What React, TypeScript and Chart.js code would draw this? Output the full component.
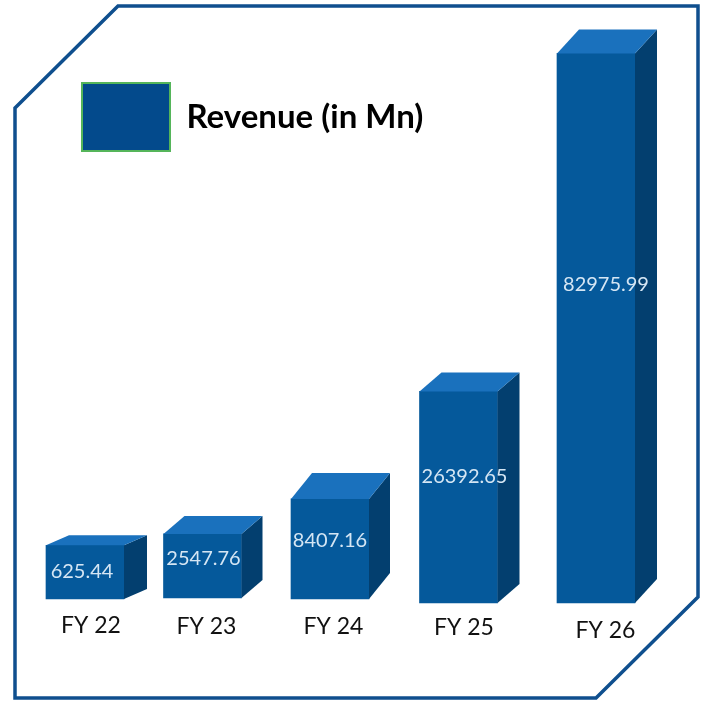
import React, { useEffect, useRef } from "react";
import { Chart, registerables, CategoryScale } from "chart.js";

const categories = ["FY 22", "FY 23", "FY 24", "FY 25", "FY 26"];
const revenue = [625.44, 2547.76, 8407.16, 26392.65, 82975.99];
const barFloors = [-8350, -8190, -8350, -9020, -9020];
const seriesName = "Revenue (in Mn)";

const barShift = [2.4, -5.3, -3, 0.3, 12.6];
const tickShiftX = [6, 4, 3.5, 5.5, 9.5];
const tickShiftY = [0, 1, 1, 2, 5];
const barWidths = [78, 79, 78, 79, 82];
const depthX = [23, 21, 21, 22, 22];
const depthY = [10, 18, 26, 19, 24];
const labelFraction = [0.48, 0.39, 0.42, 0.4, 0.42];
const labelShiftX = [-3, 1, 0, 6, 10];

class PictureCategoryScale extends CategoryScale {
  static id = "pictureCategory";
  static defaults = CategoryScale.defaults;
  getPixelForValue(value: any) {
    const px = super.getPixelForValue(value);
    const i = typeof value === "number" ? value : 0;
    return px + (barShift[i] ?? 0);
  }
  getPixelForTick(index: number) {
    return super.getPixelForTick(index) + (tickShiftX[index] ?? 0);
  }
  _computeLabelItems(area: any) {
    const items = super._computeLabelItems(area);
    items.forEach((it: any, i: number) => {
      it.options.translation = [
        it.options.translation[0],
        it.options.translation[1] + (tickShiftY[i] ?? 0),
      ];
    });
    return items;
  }
}

Chart.register(...registerables, PictureCategoryScale);

const frame = {
  id: "frame",
  afterLayout(chart: any) {
    if (chart.legend) {
      chart.legend.top += 21;
      chart.legend.bottom += 21;
    }
  },
  beforeDraw(chart: any) {
    const c = chart.ctx;
    c.save();
    c.fillStyle = "#ffffff";
    c.fillRect(0, 0, chart.width, chart.height);
    c.strokeStyle = "#0f4f8e";
    c.lineWidth = 3.5;
    c.beginPath();
    c.moveTo(118, 6);
    c.lineTo(698, 6);
    c.lineTo(698, 597);
    c.lineTo(596, 698);
    c.lineTo(15, 698);
    c.lineTo(15, 108);
    c.closePath();
    c.stroke();
    c.restore();
  },
};

const blocks = {
  id: "blocks",
  afterDatasetsDraw(chart: any) {
    const c = chart.ctx;
    chart.getDatasetMeta(0).data.forEach((bar: any, i: number) => {
      const props = bar.getProps(["x", "y", "base", "width"]);
      const { x, width } = props;
      const top = Math.min(props.y, props.base);
      const bottom = Math.max(props.y, props.base);
      const l = x - width / 2;
      const r = x + width / 2;
      const dx = depthX[i];
      const dy = depthY[i];
      c.save();
      c.fillStyle = "#033f6f";
      c.beginPath();
      c.moveTo(r, top);
      c.lineTo(r + dx, top - dy);
      c.lineTo(r + dx, bottom - dy);
      c.lineTo(r, bottom);
      c.closePath();
      c.fill();
      c.fillStyle = "#1a71bd";
      c.beginPath();
      c.moveTo(l, top);
      c.lineTo(l + dx, top - dy);
      c.lineTo(r + dx, top - dy);
      c.lineTo(r, top);
      c.closePath();
      c.fill();
      c.fillStyle = "#d5e6f4";
      c.font = "20px Lato";
      c.textAlign = "center";
      c.textBaseline = "middle";
      c.fillText(
        revenue[i].toFixed(2),
        x + labelShiftX[i],
        top + (bottom - top) * labelFraction[i]
      );
      c.restore();
    });
  },
};

export default function App() {
  const ref = useRef<HTMLCanvasElement>(null);
  useEffect(() => {
    document.body.style.margin = "0";
    const chart = new Chart(ref.current as HTMLCanvasElement, {
      type: "bar",
      data: {
        labels: categories,
        datasets: [
          {
            label: seriesName,
            data: revenue.map((v, i) => [barFloors[i], v]),
            backgroundColor: "#05599b",
            borderWidth: 0,
            barThickness: (ctx: any) => barWidths[ctx.dataIndex] ?? 78,
          } as any,
        ],
      },
      options: {
        responsive: false,
        animation: false,
        layout: { padding: { left: 20, right: 60, top: 20, bottom: 0 } },
        scales: {
          x: {
            type: "pictureCategory" as any,
            grid: { display: false, drawTicks: false, tickLength: 0 },
            border: { display: false },
            afterFit: (s: any) => {
              s.height = 93;
            },
            ticks: {
              color: "#111111",
              font: { family: "Lato", size: 23 },
              padding: 4,
              maxRotation: 0,
              autoSkip: false,
            },
          },
          y: {
            display: false,
            min: -9859,
            max: 88568,
          },
        },
        plugins: {
          title: { display: false },
          tooltip: { enabled: false },
          legend: {
            display: true,
            position: "chartArea" as any,
            align: "start",
            labels: {
              boxWidth: 88,
              boxHeight: 68,
              padding: 62,
              color: "#000000",
              font: { family: "Lato", size: 33, weight: "bold" },
              generateLabels: () => [
                {
                  text: seriesName,
                  fillStyle: "#034a8c",
                  strokeStyle: "#55b55a",
                  lineWidth: 2,
                  hidden: false,
                  datasetIndex: 0,
                },
              ],
            },
          },
        },
      },
      plugins: [frame, blocks],
    } as any);
    return () => chart.destroy();
  }, []);
  return (
    <div style={{ width: 706, height: 701 }}>
      <canvas ref={ref} width={706} height={701} style={{ display: "block" }} />
    </div>
  );
}
